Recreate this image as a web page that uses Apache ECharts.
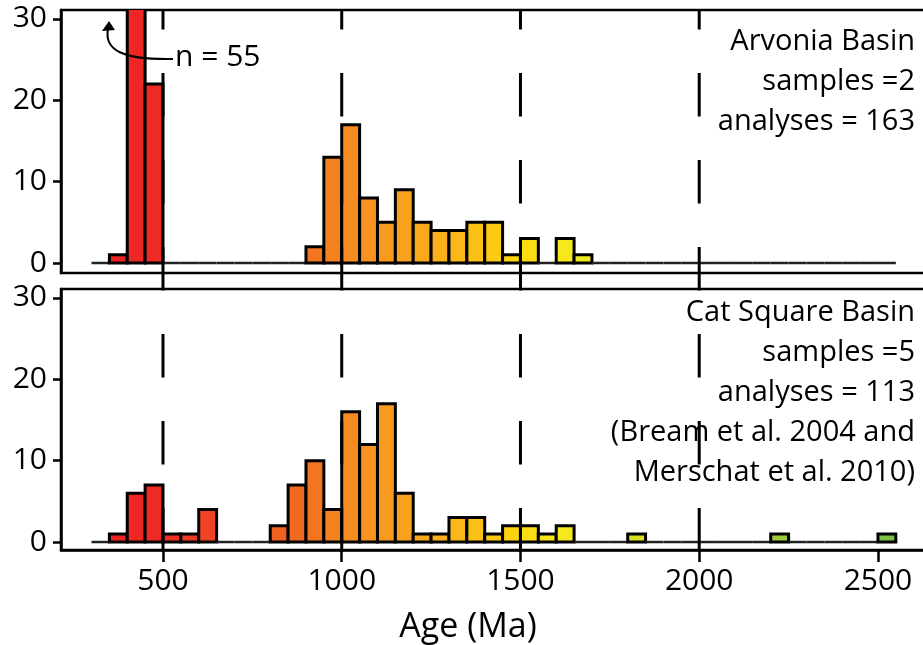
<!DOCTYPE html>
<html><head><meta charset="utf-8">
<script src="https://cdn.jsdelivr.net/npm/echarts@6/dist/echarts.min.js"></script>
<style>html,body{margin:0;padding:0;background:#fff}#c{width:923px;height:645px}</style>
</head><body><div id="c"></div>
<script>
// ---- data ----
const binStarts = [300,350,400,450,500,550,600,650,700,750,800,850,900,950,1000,1050,1100,1150,1200,1250,1300,1350,1400,1450,1500,1550,1600,1650,1700,1750,1800,1850,1900,1950,2000,2050,2100,2150,2200,2250,2300,2350,2400,2450,2500];
const binWidth = 50;
const arvoniaCounts = [0,1,55,22,0,0,0,0,0,0,0,0,2,13,17,8,5,9,5,4,4,5,5,1,3,0,3,1,0,0,0,0,0,0,0,0,0,0,0,0,0,0,0,0,0];
const catSquareCounts = [0,1,6,7,1,1,4,0,0,0,2,7,10,4,16,12,17,6,1,1,3,3,1,2,2,1,2,0,0,0,1,0,0,0,0,0,0,0,1,0,0,0,0,0,1];
const xTickValues = [500,1000,1500,2000,2500];
const yTickValues = [0,10,20,30];
const referenceAges = [500,1000,1500,2000];
const arvoniaText = ['Arvonia Basin','samples =2','analyses = 163'];
const catSquareText = ['Cat Square Basin','samples =5','analyses = 113','(Bream et al. 2004 and','Merschat et al. 2010)'];
const xAxisTitle = 'Age (Ma)';
const offScaleLabel = 'n = 55';

// ---- style ----
const FONT = '"Open Sans", "Noto Sans", sans-serif';
const colorStops = [
  [350,[237,34,36]],[500,[238,44,36]],[650,[239,72,35]],[800,[241,92,34]],
  [900,[242,111,33]],[1000,[246,136,31]],[1150,[248,157,28]],[1300,[251,180,25]],
  [1450,[252,206,16]],[1550,[251,225,20]],[1650,[244,234,32]],[1850,[215,222,32]],
  [2200,[160,204,58]],[2550,[121,192,67]]
];
function ageColor(a){
  if(a<=colorStops[0][0]) return 'rgb('+colorStops[0][1].join(',')+')';
  for(let i=1;i<colorStops.length;i++){
    if(a<=colorStops[i][0]){
      const [a0,c0]=colorStops[i-1],[a1,c1]=colorStops[i];
      const t=(a-a0)/(a1-a0);
      return 'rgb('+c0.map((v,k)=>Math.round(v+(c1[k]-v)*t)).join(',')+')';
    }
  }
  return 'rgb('+colorStops[colorStops.length-1][1].join(',')+')';
}
const X_MIN = 214.7, X_MAX = 2640;
function histItem(params, api){
  const x0=api.value(0), x1=api.value(1), n=api.value(2);
  const p0=api.coord([x0,0]), p1=api.coord([x1,n]);
  if(n===0){
    return {type:'line',shape:{x1:p0[0],y1:p0[1],x2:p1[0],y2:p0[1]},style:{stroke:'#222',lineWidth:2.5}};
  }
  return {type:'rect',shape:{x:p0[0],y:p1[1],width:p1[0]-p0[0],height:p0[1]-p1[1]},
    style:{fill:ageColor((x0+x1)/2),stroke:'#000',lineWidth:3}};
}
function xAxisCfg(gi, showLabels){
  return {type:'value',gridIndex:gi,min:X_MIN,max:X_MAX,
    axisLine:{show:showLabels,onZero:false,lineStyle:{color:'#000',width:2.5}},
    axisTick:{show:showLabels,customValues:xTickValues,length:12,lineStyle:{color:'#000',width:2.5}},
    axisLabel:{show:showLabels,customValues:xTickValues,margin:16,color:'#000',fontSize:30,fontFamily:FONT,
      formatter:function(v){return String(v);}},
    splitLine:{show:false}};
}
function yAxisCfg(gi, mn, mx){
  return {type:'value',gridIndex:gi,min:mn,max:mx,
    axisLine:{show:true,onZero:false,lineStyle:{color:'#000',width:2.5}},
    axisTick:{show:true,customValues:yTickValues,length:8,lineStyle:{color:'#000',width:2.5}},
    axisLabel:{customValues:yTickValues,margin:14,color:'#000',fontSize:30,fontFamily:FONT},
    splitLine:{show:false}};
}
const gridBase = {left:61,width:867,outerBoundsMode:'none',containLabel:false};
const chart = echarts.init(document.getElementById('c'), null, {renderer:'canvas'});
chart.setOption({
  animation:false,
  backgroundColor:'#fff',
  grid:[
    Object.assign({},gridBase,{top:10,height:263,show:true,borderColor:'#000',borderWidth:2.5,backgroundColor:'transparent'}),
    Object.assign({},gridBase,{top:289,height:261,show:true,borderColor:'#000',borderWidth:2.5,backgroundColor:'transparent'}),
    Object.assign({},gridBase,{top:10,height:552,show:false})
  ],
  xAxis:[xAxisCfg(0,false),xAxisCfg(1,true),
    {type:'value',gridIndex:2,min:X_MIN,max:X_MAX,show:false}],
  yAxis:[yAxisCfg(0,-1.23,31.1),yAxisCfg(1,-0.98,31.1),
    {type:'value',gridIndex:2,min:0,max:1,show:false}],
  series:[
    {type:'custom',xAxisIndex:0,yAxisIndex:0,clip:true,renderItem:histItem,encode:{x:[0,1],y:2},
      data:binStarts.map((s,i)=>[s,s+binWidth,arvoniaCounts[i]])},
    {type:'custom',xAxisIndex:1,yAxisIndex:1,clip:true,renderItem:histItem,encode:{x:[0,1],y:2},
      data:binStarts.map((s,i)=>[s,s+binWidth,catSquareCounts[i]])},
    {type:'custom',xAxisIndex:2,yAxisIndex:2,clip:false,z:5,encode:{x:0},
      renderItem:function(params,api){
        const a=api.coord([api.value(0),1]), b=api.coord([api.value(0),0]);
        return {type:'line',shape:{x1:a[0],y1:a[1],x2:b[0],y2:b[1]},
          style:{stroke:'#000',lineWidth:3,lineDash:[43.5,43.5],lineDashOffset:24}};
      },
      data:referenceAges.map(v=>[v])}
  ],
  graphic:[
    {type:'text',right:8,top:22,z:10,style:{text:arvoniaText.join('\n'),font:'29px '+FONT,fill:'#000',textAlign:'right',lineHeight:40}},
    {type:'text',right:8,top:293,z:10,style:{text:catSquareText.join('\n'),font:'29px '+FONT,fill:'#000',textAlign:'right',lineHeight:40}},
    {type:'text',x:468,y:627,z:10,style:{text:xAxisTitle,font:'34px '+FONT,fill:'#000',textAlign:'center',textVerticalAlign:'middle'}},
    {type:'text',x:175,y:57,z:10,style:{text:offScaleLabel,font:'30px '+FONT,fill:'#000',textAlign:'left',textVerticalAlign:'middle'}},
    {type:'bezierCurve',z:10,shape:{x1:173,y1:59,cpx1:122,cpy1:60,cpx2:104,cpy2:50,x2:108,y2:29},style:{stroke:'#000',lineWidth:2,fill:null}},
    {type:'polygon',z:10,shape:{points:[[109,21],[102,31],[115,30]]},style:{fill:'#000'}}
  ]
});
</script></body></html>
